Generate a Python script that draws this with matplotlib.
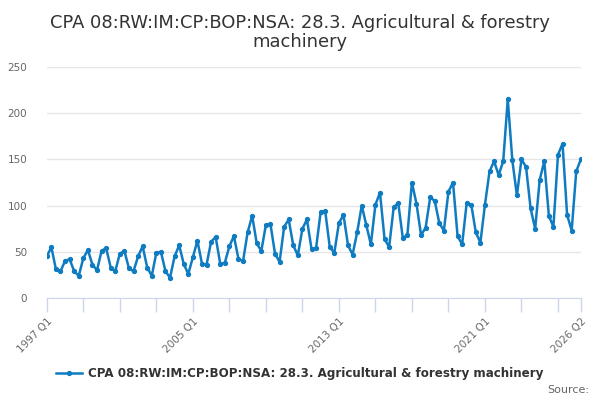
import numpy as np
import matplotlib
matplotlib.use('Agg')
import matplotlib.pyplot as plt

title = 'CPA 08:RW:IM:CP:BOP:NSA: 28.3. Agricultural & forestry\nmachinery'
series_name = 'CPA 08:RW:IM:CP:BOP:NSA: 28.3. Agricultural & forestry machinery'

start_year = 1997
# quarterly values, 1997 Q1 .. 2026 Q2
values = [
    45, 55, 31, 29,
    40, 42, 29, 24,
    43, 52, 36, 30,
    51, 54, 33, 29,
    48, 51, 32, 29,
    45, 56, 33, 24,
    49, 50, 29, 22,
    45, 57, 37, 26,
    44, 62, 37, 36,
    61, 66, 37, 38,
    56, 67, 42, 40,
    71, 89, 59, 51,
    79, 80, 48, 39,
    77, 85, 57, 46,
    75, 85, 53, 54,
    93, 94, 55, 49,
    81, 90, 57, 47,
    71, 100, 79, 58,
    101, 114, 64, 55,
    98, 103, 65, 68,
    125, 102, 68, 76,
    109, 105, 81, 73,
    115, 125, 67, 58,
    103, 101, 71, 60,
    101, 137, 148, 133,
    148, 215, 149, 111,
    150, 142, 97, 75,
    128, 148, 89, 77,
    155, 167, 90, 73,
    137, 150,
]

labels = ['%d Q%d' % (start_year + i // 4, i % 4 + 1) for i in range(len(values))]
x = np.arange(len(values))

tick_pos = list(range(0, len(values), 8)) + [len(values) - 1]
tick_lab = [labels[p] if labels[p] in ('1997 Q1', '2005 Q1', '2013 Q1', '2021 Q1', '2026 Q2') else ''
            for p in tick_pos]

blue = '#0f7cc2'

fig = plt.figure(figsize=(6, 4), dpi=100)
ax = fig.add_axes([0.078, 0.255, 0.89, 0.5775])

ax.plot(x, values, color=blue, lw=1.8, marker='o', ms=2.8, label=series_name)

ax.set_xlim(0, len(values) - 1)
ax.set_ylim(0, 250)
ax.set_yticks(range(0, 251, 50))
ax.yaxis.grid(True, color='#e6e6e6', lw=1)
ax.set_axisbelow(True)
ax.set_xticks(tick_pos)
ax.set_xticklabels(tick_lab, rotation=45, ha='right', rotation_mode='anchor')

for s in ['top', 'right', 'left']:
    ax.spines[s].set_visible(False)
ax.spines['bottom'].set_color('#ccd6eb')
ax.tick_params(axis='x', colors='#ccd6eb', length=10, width=1, labelcolor='#666666',
               labelsize=7.5, pad=3)
ax.tick_params(axis='y', length=0, labelcolor='#666666', labelsize=7.5, pad=14)

fig.suptitle(title, fontsize=12.9, color='#333333', y=0.965, linespacing=1.1)

leg = fig.legend(loc='center', bbox_to_anchor=(0.5, 0.065), frameon=False,
                 prop={'size': 8.6, 'weight': 'bold'}, handlelength=2.2, handletextpad=0.5)
for t in leg.get_texts():
    t.set_color('#333333')

fig.text(0.982, 0.025, 'Source:', ha='right', va='center', fontsize=8, color='#666666')

fig.savefig('out.png', dpi=100)
